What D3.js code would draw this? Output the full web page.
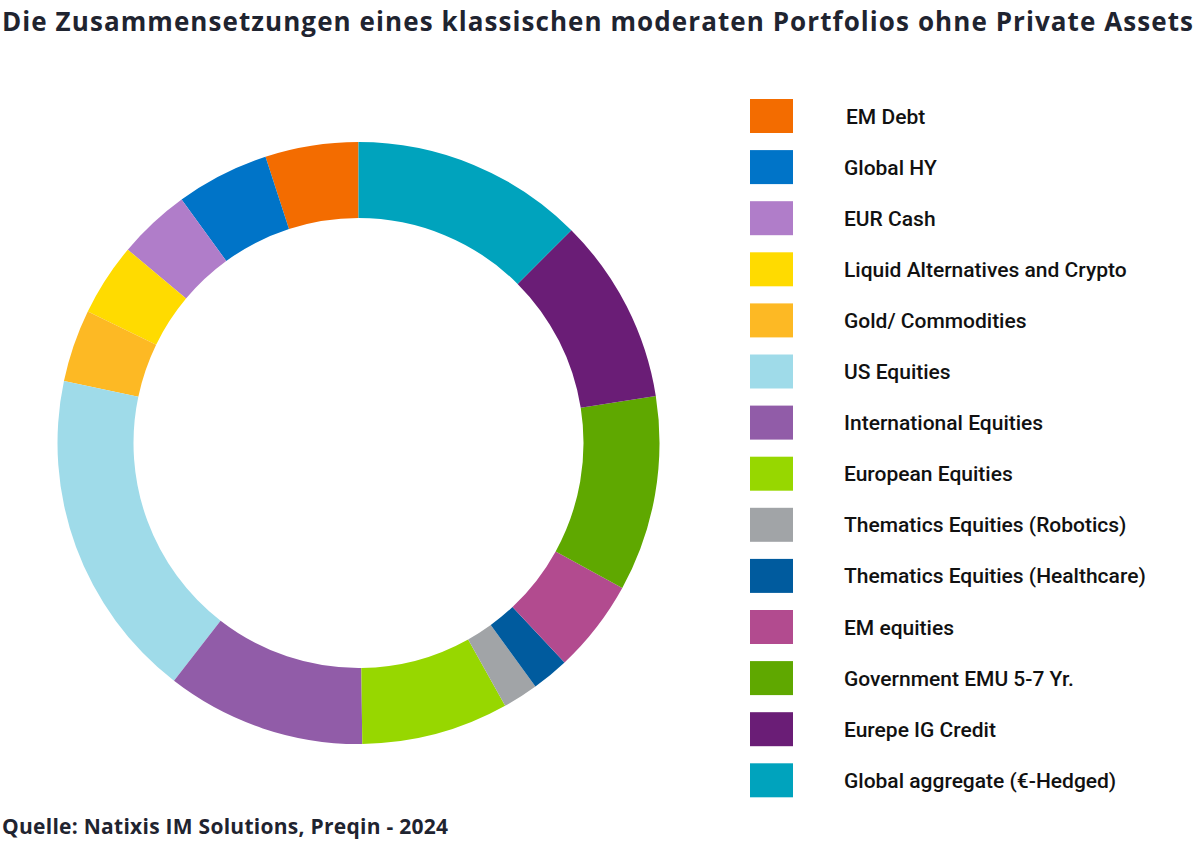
<!DOCTYPE html>
<html lang="de">
<head>
    <meta charset="UTF-8">
    <title>Portfolio ohne Private Assets</title>
    <script src="https://cdn.jsdelivr.net/npm/d3@7"></script>
    <style>
        body { margin: 0; background: #fff; }
        .title {
            font-family: "Open Sans", sans-serif;
            font-size: 26px;
            font-weight: 700;
            fill: #1f2430;
        }
        .source {
            font-family: "Open Sans", sans-serif;
            font-size: 21px;
            font-weight: 700;
            fill: #1f2430;
        }
        .legend text {
            font-family: Roboto, sans-serif;
            font-size: 21px;
            font-weight: 500;
            fill: #111;
        }
    </style>
</head>
<body>
    <div id="chart"></div>

    <script>
        // legend order (top to bottom); the ring runs the other way, clockwise from 12 o'clock
        const categories = [
            "EM Debt",
            "Global HY",
            "EUR Cash",
            "Liquid Alternatives and Crypto",
            "Gold/ Commodities",
            "US Equities",
            "International Equities",
            "European Equities",
            "Thematics Equities (Robotics)",
            "Thematics Equities (Healthcare)",
            "EM equities",
            "Government EMU 5-7 Yr.",
            "Eurepe IG Credit",
            "Global aggregate (€-Hedged)"
        ];
        // shares in %
        const values = [5, 5, 3.9, 3.9, 3.9, 17.8, 10.7, 7.9, 1.9, 2, 5, 10.5, 10, 12.5];
        const colors = [
            "#f36c00", "#0074c8", "#b07dc9", "#ffdb00", "#fdb924", "#9fdbe9", "#915ca8",
            "#97d700", "#a1a4a7", "#005b9e", "#b24b8f", "#5fa800", "#6a1d76", "#00a3bd"
        ];

        const width = 1203;
        const height = 851;
        const cx = 358.5, cy = 443;
        const outerR = 301, innerR = 225;

        const data = categories.map((c, i) => ({ name: c, value: values[i], color: colors[i] }));

        const svg = d3.select("#chart").append("svg")
            .attr("width", width)
            .attr("height", height);

        svg.append("text")
            .attr("class", "title")
            .attr("x", 2)
            .attr("y", 31)
            .attr("textLength", 1191)
            .attr("lengthAdjust", "spacing")
            .text("Die Zusammensetzungen eines klassischen moderaten Portfolios ohne Private Assets");

        // ring: start at top, go counter-clockwise so the legend order reads backwards round it
        const pie = d3.pie()
            .sort(null)
            .value(d => d.value)
            .startAngle(2 * Math.PI)
            .endAngle(0);

        const arc = d3.arc()
            .innerRadius(innerR)
            .outerRadius(outerR);

        const g = svg.append("g")
            .attr("transform", `translate(${cx}, ${cy})`);

        g.selectAll("path")
            .data(pie(data))
            .enter().append("path")
            .attr("d", arc)
            .attr("fill", d => d.data.color);

        // legend
        const y = d3.scaleBand()
            .domain(categories)
            .range([99, 99 + 51.1 * categories.length]);

        const legend = svg.append("g").attr("class", "legend");
        const items = legend.selectAll("g")
            .data(data)
            .enter().append("g")
            .attr("transform", d => `translate(750, ${y(d.name)})`);

        items.append("rect")
            .attr("width", 43)
            .attr("height", 34)
            .attr("fill", d => d.color);

        items.append("text")
            .attr("x", (d, i) => i === 0 ? 96 : 94)
            .attr("y", 24.5)
            .text(d => d.name);

        svg.append("text")
            .attr("class", "source")
            .attr("x", 2)
            .attr("y", 834)
            .attr("textLength", 446)
            .attr("lengthAdjust", "spacing")
            .text("Quelle: Natixis IM Solutions, Preqin - 2024");
    </script>
</body>
</html>
